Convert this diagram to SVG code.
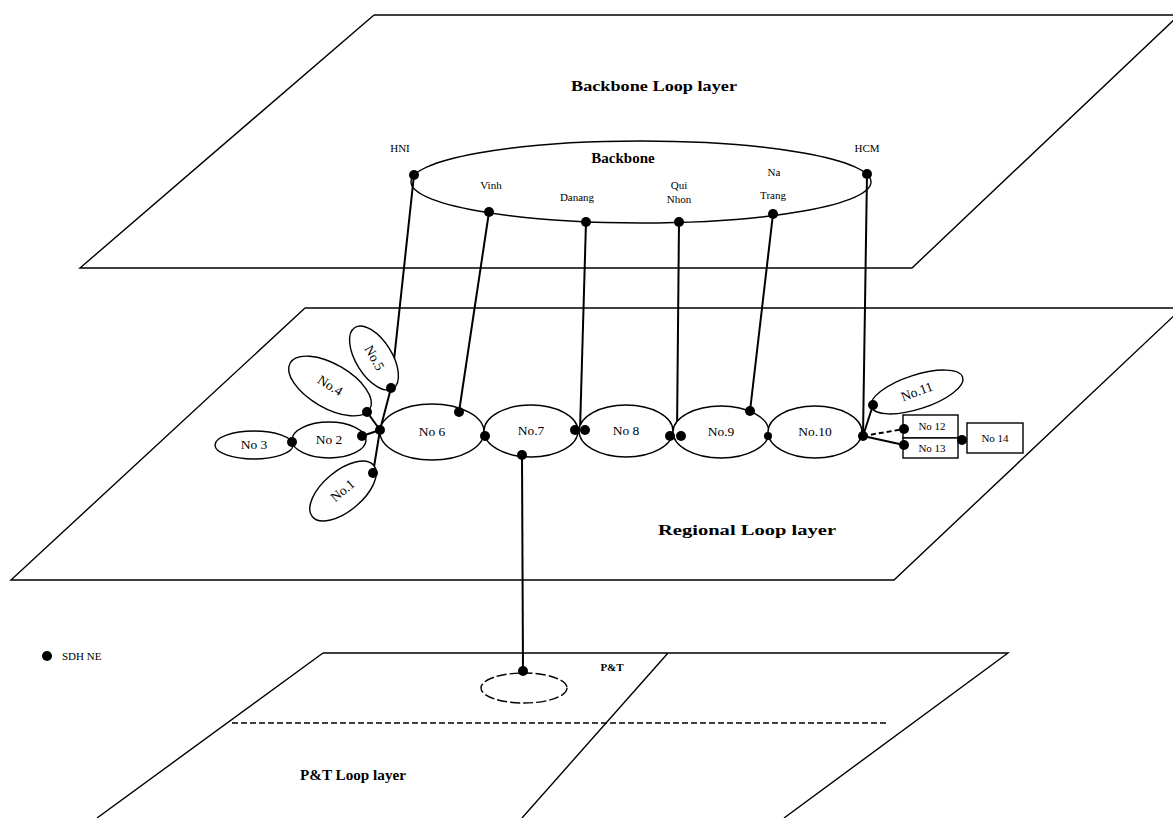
<svg xmlns="http://www.w3.org/2000/svg" width="1173" height="818" viewBox="0 0 1173 818">
<style>
.pl{fill:none;stroke:#000;stroke-width:1.4}
.dash{stroke-dasharray:6 3}
.nd{fill:#fff;stroke:#000;stroke-width:1.4}
.cn{fill:none;stroke:#000;stroke-width:2}
.dt{fill:#000}
.t{font-family:"Liberation Serif","Times New Roman",serif;font-size:13.5px;fill:#000}
.ts{font-family:"Liberation Serif","Times New Roman",serif;font-size:11px;fill:#000}
.tb{font-family:"Liberation Serif","Times New Roman",serif;font-size:15px;font-weight:bold;fill:#000}
</style>
<rect width="1173" height="818" fill="#fff"/>
<g id="backbone-layer">
<path class="pl" d="M374,15 L1180,15 M374,15 L80,268 L912,268 L1179,15"/>
<text class="tb" x="654" y="91" text-anchor="middle" textLength="166" lengthAdjust="spacingAndGlyphs">Backbone Loop layer</text>
</g>
<g id="regional-layer">
<path class="pl" d="M305,308 L1180,308 M305,308 L11,580 L894,580 L1180,310"/>
<text class="tb" x="747" y="535" text-anchor="middle" textLength="178" lengthAdjust="spacingAndGlyphs">Regional Loop layer</text>
</g>
<g id="pt-layer">
<path class="pl" d="M323,653 L1008,653 L784,818 M323,653 L97,818 M668,653 L522,818"/>
<line class="pl dash" x1="232" y1="723" x2="886" y2="723" stroke-width="0.9"/>
<text class="tb" x="353" y="780" text-anchor="middle" textLength="106" lengthAdjust="spacingAndGlyphs">P&amp;T Loop layer</text>
</g>
<g id="legend">
<circle class="dt" cx="47" cy="656" r="5"/>
<text class="ts" x="62" y="660">SDH NE</text>
</g>
<g id="connectors">
<polyline class="cn" points="414,175 391,388 380,430 373,473"/>
<line class="cn" x1="489" y1="212" x2="459" y2="412"/>
<line class="cn" x1="586" y1="222" x2="580" y2="430"/>
<line class="cn" x1="679" y1="222" x2="677" y2="434"/>
<line class="cn" x1="773" y1="214" x2="750" y2="411"/>
<line class="cn" x1="867" y1="174" x2="863" y2="436"/>
<line class="cn" x1="367" y1="412" x2="380" y2="430"/>
<line class="cn" x1="362" y1="436" x2="380" y2="430"/>
<line class="cn" x1="522" y1="455" x2="523" y2="671"/>
<line class="cn" x1="863" y1="436" x2="873" y2="405" stroke-width="1.6"/>
<line class="cn" x1="863" y1="436" x2="904" y2="429" stroke-width="1.2" stroke-dasharray="5 3"/>
<line class="cn" x1="863" y1="436" x2="904" y2="445" stroke-width="1.4"/>
</g>
<g id="backbone">
<ellipse class="pl" cx="641" cy="182" rx="230" ry="41"/>
<text class="tb" x="623" y="163" text-anchor="middle">Backbone</text>
</g>
<g id="hni"><circle class="dt" cx="414" cy="175" r="5"/><text class="ts" x="400" y="152" text-anchor="middle">HNI</text></g>
<g id="vinh"><circle class="dt" cx="489" cy="212" r="5"/><text class="ts" x="491" y="189" text-anchor="middle">Vinh</text></g>
<g id="danang"><circle class="dt" cx="586" cy="222" r="5"/><text class="ts" x="577" y="201" text-anchor="middle">Danang</text></g>
<g id="quinhon"><circle class="dt" cx="679" cy="222" r="5"/><text class="ts" x="679" y="189" text-anchor="middle">Qui</text><text class="ts" x="679" y="203" text-anchor="middle">Nhon</text></g>
<g id="natrang"><circle class="dt" cx="773" cy="214" r="5"/><text class="ts" x="774" y="176" text-anchor="middle">Na</text><text class="ts" x="773" y="199" text-anchor="middle">Trang</text></g>
<g id="hcm"><circle class="dt" cx="867" cy="174" r="5"/><text class="ts" x="867" y="152" text-anchor="middle">HCM</text></g>
<g id="no5"><ellipse class="nd" cx="374" cy="358" rx="36" ry="18" transform="rotate(58 374 358)"/><text class="t" x="374" y="362" text-anchor="middle" transform="rotate(60 374 358)">No.5</text><circle class="dt" cx="391" cy="388" r="5"/></g>
<g id="no4"><ellipse class="nd" cx="330" cy="386" rx="46" ry="22" transform="rotate(30 330 386)"/><text class="t" x="330" y="390" text-anchor="middle" transform="rotate(32 330 386)">No.4</text><circle class="dt" cx="367" cy="412" r="5"/></g>
<g id="no3"><ellipse class="nd" cx="254" cy="445" rx="39" ry="14"/><text class="t" x="254" y="449" text-anchor="middle">No 3</text></g>
<g id="no2"><ellipse class="nd" cx="329" cy="440" rx="37" ry="18"/><text class="t" x="329" y="444" text-anchor="middle">No 2</text><circle class="dt" cx="292" cy="442" r="5"/><circle class="dt" cx="362" cy="436" r="5"/></g>
<g id="no1"><ellipse class="nd" cx="343" cy="491" rx="40" ry="20" transform="rotate(-40 343 491)"/><text class="t" x="343" y="495" text-anchor="middle" transform="rotate(-40 343 491)">No.1</text><circle class="dt" cx="373" cy="473" r="5"/></g>
<g id="no6"><ellipse class="nd" cx="432" cy="432" rx="52" ry="28"/><text class="t" x="432" y="436" text-anchor="middle">No 6</text><circle class="dt" cx="459" cy="412" r="5"/><circle class="dt" cx="380" cy="430" r="5"/></g>
<g id="no7"><ellipse class="nd" cx="531" cy="431" rx="47" ry="26"/><text class="t" x="531" y="435" text-anchor="middle">No.7</text><circle class="dt" cx="485" cy="436" r="5"/><circle class="dt" cx="522" cy="455" r="5"/></g>
<g id="no8"><ellipse class="nd" cx="626" cy="431" rx="47" ry="26"/><text class="t" x="626" y="435" text-anchor="middle">No 8</text><circle class="dt" cx="575" cy="430" r="5"/><circle class="dt" cx="585" cy="430" r="5"/></g>
<g id="no9"><ellipse class="nd" cx="721" cy="432" rx="48" ry="26"/><text class="t" x="721" y="436" text-anchor="middle">No.9</text><circle class="dt" cx="670" cy="436" r="5"/><circle class="dt" cx="681" cy="436" r="5"/><circle class="dt" cx="750" cy="411" r="5"/></g>
<g id="no10"><ellipse class="nd" cx="815" cy="432" rx="47" ry="26"/><text class="t" x="815" y="436" text-anchor="middle">No.10</text><circle class="dt" cx="768" cy="436" r="4"/><circle class="dt" cx="863" cy="436" r="5"/></g>
<g id="no11"><ellipse class="nd" cx="917" cy="392" rx="48" ry="17" transform="rotate(-18 917 392)"/><text class="t" x="917" y="396" text-anchor="middle" transform="rotate(-20 917 392)">No.11</text><circle class="dt" cx="873" cy="405" r="5"/></g>
<g id="no12"><rect class="nd" x="903" y="415" width="55" height="23"/><text class="ts" x="932" y="430" text-anchor="middle">No 12</text><circle class="dt" cx="904" cy="429" r="5"/></g>
<g id="no13"><rect class="nd" x="903" y="438" width="55" height="20"/><text class="ts" x="932" y="452" text-anchor="middle">No 13</text><circle class="dt" cx="904" cy="445" r="5"/></g>
<g id="no14"><rect class="nd" x="967" y="423" width="56" height="30"/><text class="ts" x="995" y="442" text-anchor="middle">No 14</text><circle class="dt" cx="962" cy="440" r="5"/></g>
<g id="pt"><ellipse class="pl" cx="524" cy="688" rx="43" ry="15" stroke-dasharray="10 3"/><circle class="dt" cx="523" cy="671" r="5"/><text class="ts" x="612" y="671" text-anchor="middle" font-weight="bold">P&amp;T</text></g>
</svg>
